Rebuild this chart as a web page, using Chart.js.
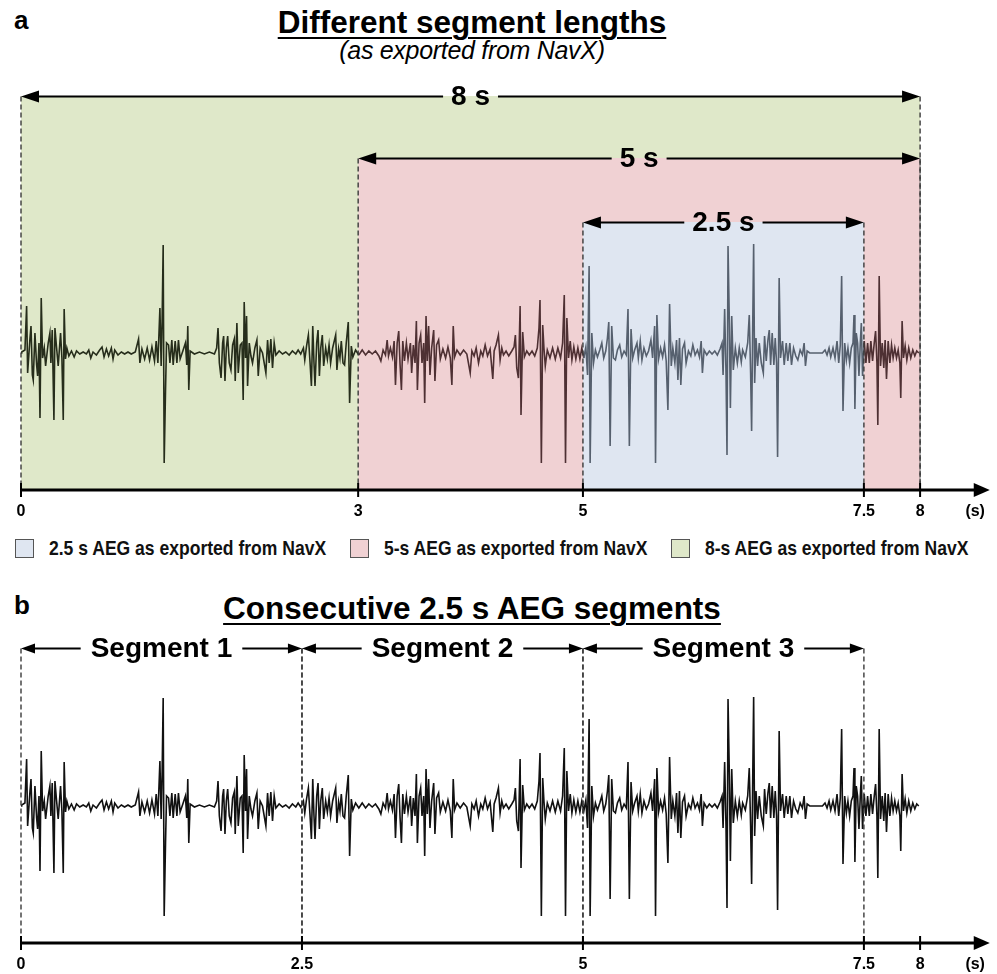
<!DOCTYPE html>
<html>
<head>
<meta charset="utf-8">
<script src="https://cdn.jsdelivr.net/npm/chart.js@4.4.1/dist/chart.umd.min.js"></script>
<style>
    body { margin: 0; width: 997px; height: 974px; position: relative; overflow: hidden; background: #fff;
           font-family: "Liberation Sans", Arial, sans-serif; color: #000; }
    .panelLetter { position: absolute; left: 14px; font-weight: bold; font-size: 26px; line-height: 30px; }
    .title { position: absolute; left: 0; width: 944px; text-align: center; font-weight: bold; font-size: 31.5px;
             line-height: 36px; text-decoration: underline; text-decoration-thickness: 2px; text-underline-offset: 4px; }
    .subtitle { position: absolute; left: 0; width: 944px; top: 36px; text-align: center; font-style: italic;
                font-size: 25px; line-height: 28px; letter-spacing: -0.3px; }
    canvas { position: absolute; left: 0; }
    #legend { position: absolute; left: 15px; top: 536px; display: flex; flex-direction: row; margin: 0; padding: 0; }
</style>
</head>
<body>
<div class="panelLetter" style="top:5px">a</div>
<div class="title" style="top:4px">Different segment lengths</div>
<div class="subtitle">(as exported from NavX)</div>
<canvas id="chartA" width="997" height="462" style="top:60px"></canvas>
<ul id="legend"></ul>
<div class="panelLetter" style="top:590px">b</div>
<div class="title" style="top:590px">Consecutive 2.5 s AEG segments</div>
<canvas id="chartB" width="997" height="385" style="top:590px"></canvas>
<script>
// x axis ticks (s); the last one carries the unit label
const ticksA = [0, 3, 5, 7.5, 8, 8.49];
const tickLabelsA = ['0', '3', '5', '7.5', '8', '(s)'];
const ticksB = [0, 2.5, 5, 7.5, 8, 8.49];
const tickLabelsB = ['0', '2.5', '5', '7.5', '8', '(s)'];

// exported AEG lengths (panel a), in legend order
const regionLabels = ['2.5 s AEG as exported from NavX', '5-s AEG as exported from NavX', '8-s AEG as exported from NavX'];
const regionSpanText = ['2.5 s', '5 s', '8 s'];
const regionStart = [5, 3, 0];
const regionEnd = [7.5, 8, 8];
const regionTop = [1.31, 1.95, 2.57];
const regionColors = ['#dfe6f1', '#f0d1d3', '#dfe8c9'];
const traceColors = ['#56606e', '#4e3033', '#262d1b'];

// consecutive segments (panel b)
const segmentLabels = ['Segment 1', 'Segment 2', 'Segment 3'];
const segmentStart = [0, 2.5, 5];
const segmentEnd = [2.5, 5, 7.5];
const segmentTop = 1.58;

// AEG trace: [time (s), amplitude]
const aegTrace = [
[0,0],[0.006,0.01],[0.035,0.03],[0.05,0.47],[0.059,-0.2],[0.08,0.15],[0.089,0.27],[0.101,-0.22],[0.109,-0.27],[0.124,0.2],
[0.139,-0.12],[0.148,-0.23],[0.16,0.1],[0.169,-0.65],[0.18,0.55],[0.192,-0.05],[0.207,0.05],[0.219,-0.13],[0.242,0.1],[0.257,0.2],
[0.266,-0.1],[0.278,0.23],[0.293,-0.67],[0.302,0.25],[0.316,0.06],[0.331,-0.13],[0.352,0.2],[0.364,-0.05],[0.376,-0.67],[0.384,0.44],
[0.396,-0.06],[0.408,0.05],[0.426,-0.03],[0.449,0.02],[0.473,-0.04],[0.494,0.02],[0.523,-0.01],[0.553,0.01],[0.582,-0.01],[0.603,0.03],
[0.621,-0.05],[0.641,0.01],[0.671,-0.02],[0.7,0.03],[0.721,0.06],[0.739,-0.04],[0.76,0.04],[0.78,-0.03],[0.804,0.05],[0.819,-0.06],
[0.834,0.03],[0.863,-0.02],[0.893,0.01],[0.922,-0.01],[0.952,0.01],[0.981,-0.01],[1.017,0.01],[1.046,0.14],[1.058,-0.1],[1.076,0.04],
[1.1,-0.06],[1.123,0.05],[1.144,-0.07],[1.165,0.06],[1.188,-0.08],[1.203,0.12],[1.218,-0.1],[1.236,0.45],[1.247,-0.13],[1.256,0.35],
[1.265,1.08],[1.274,-1.1],[1.286,-0.37],[1.295,0.1],[1.313,0.08],[1.325,-0.1],[1.342,0.13],[1.354,-0.12],[1.372,0.12],[1.387,-0.1],
[1.401,0.13],[1.416,-0.06],[1.44,0.02],[1.463,0.1],[1.475,-0.12],[1.484,0.27],[1.493,-0.37],[1.505,0.02],[1.543,-0.01],[1.588,0.01],
[1.632,-0.01],[1.676,0.01],[1.721,-0.01],[1.741,0.05],[1.753,0.25],[1.765,-0.1],[1.78,-0.25],[1.794,0.1],[1.803,0.17],[1.815,-0.28],
[1.827,0.05],[1.839,0.17],[1.853,-0.1],[1.868,-0.17],[1.883,0.08],[1.898,0.14],[1.906,-0.28],[1.921,0.3],[1.933,-0.2],[1.951,0.08],
[1.966,0.1],[1.977,-0.47],[1.986,0.51],[1.998,-0.05],[2.007,0.37],[2.016,-0.33],[2.031,0.1],[2.046,-0.03],[2.06,-0.1],[2.081,0.05],
[2.099,0.13],[2.111,-0.23],[2.128,0.05],[2.149,0],[2.179,-0.2],[2.194,0.13],[2.208,-0.1],[2.223,0.14],[2.238,-0.15],[2.253,0.1],
[2.268,-0.02],[2.297,0.02],[2.327,-0.01],[2.356,0.01],[2.386,-0.02],[2.415,0.02],[2.445,-0.01],[2.466,0.03],[2.489,-0.01],[2.513,0.05],
[2.525,-0.07],[2.542,0.08],[2.557,0.18],[2.572,-0.1],[2.584,-0.33],[2.596,0.27],[2.607,-0.1],[2.616,-0.33],[2.631,0.1],[2.643,0.23],
[2.655,-0.23],[2.667,0.05],[2.681,0.18],[2.693,-0.13],[2.711,0.05],[2.726,-0.06],[2.741,0.08],[2.755,-0.1],[2.773,0.05],[2.8,0.18],
[2.811,-0.17],[2.826,0.04],[2.838,-0.05],[2.85,0.12],[2.865,-0.1],[2.879,-0.12],[2.894,0.1],[2.912,0.31],[2.924,-0.5],[2.939,0.07],
[2.953,-0.04],[2.977,0.03],[3.006,-0.02],[3.036,0.03],[3.066,-0.02],[3.095,0.02],[3.125,-0.01],[3.154,0.02],[3.184,-0.03],[3.202,-0.08],
[3.222,0.03],[3.243,-0.02],[3.258,0.13],[3.27,-0.03],[3.287,0.05],[3.305,-0.04],[3.32,0.12],[3.332,-0.32],[3.347,0.1],[3.361,0.22],
[3.373,-0.12],[3.385,-0.37],[3.397,0.12],[3.412,-0.08],[3.429,0.1],[3.444,-0.06],[3.465,0.1],[3.476,-0.2],[3.491,0.08],[3.506,-0.1],
[3.518,0.32],[3.527,-0.37],[3.542,0.1],[3.556,0.18],[3.568,-0.1],[3.583,0.1],[3.592,-0.5],[3.604,0.37],[3.615,-0.08],[3.627,0.27],
[3.639,-0.22],[3.654,0.05],[3.672,0.23],[3.683,-0.28],[3.698,0.08],[3.716,0.13],[3.731,-0.06],[3.754,0.04],[3.778,-0.05],[3.799,0.06],
[3.82,-0.05],[3.834,-0.32],[3.846,0.27],[3.858,-0.04],[3.879,0.03],[3.908,-0.02],[3.938,0.03],[3.967,-0.01],[3.997,-0.2],[4.012,0.02],
[4.032,-0.03],[4.05,0.05],[4.071,-0.1],[4.091,0.02],[4.109,-0.03],[4.13,0.08],[4.151,-0.03],[4.174,0.04],[4.198,-0.26],[4.21,0.02],
[4.227,0.08],[4.248,0.18],[4.263,-0.07],[4.278,0.05],[4.293,-0.02],[4.316,0.02],[4.34,-0.03],[4.367,0.02],[4.387,0.06],[4.399,0.18],
[4.411,-0.15],[4.426,-0.25],[4.441,0.47],[4.449,-0.62],[4.464,0.21],[4.479,-0.04],[4.5,0.02],[4.523,-0.02],[4.547,0.02],[4.571,-0.03],
[4.594,0.05],[4.609,0.25],[4.618,0.53],[4.63,-1.1],[4.642,0.28],[4.653,0.05],[4.665,-0.13],[4.683,0.03],[4.707,-0.05],[4.73,0.05],
[4.754,-0.06],[4.777,0.05],[4.801,-0.05],[4.819,0.1],[4.834,0.58],[4.845,-1.1],[4.857,0.35],[4.872,-0.05],[4.887,0.12],[4.902,-0.07],
[4.919,0.06],[4.937,-0.06],[4.955,0.05],[4.973,-0.06],[4.99,0.05],[5.008,-0.05],[5.026,0.06],[5.041,-0.22],[5.055,0.87],[5.064,-1.1],
[5.079,0.2],[5.094,-0.1],[5.111,0.03],[5.129,-0.04],[5.15,0.03],[5.168,0.1],[5.185,-0.05],[5.203,0.02],[5.218,0.15],[5.23,0.31],
[5.242,-0.93],[5.256,0.27],[5.271,-0.05],[5.289,-0.07],[5.307,0.03],[5.327,0.08],[5.345,-0.04],[5.366,0.02],[5.386,-0.02],[5.401,0.44],
[5.413,-0.93],[5.428,0.24],[5.443,-0.05],[5.46,0.03],[5.481,0.1],[5.493,-0.05],[5.51,0.12],[5.525,-0.07],[5.543,0.05],[5.564,-0.03],
[5.584,0.02],[5.605,0.13],[5.62,-0.05],[5.638,0.27],[5.646,-1.1],[5.658,0.38],[5.673,-0.06],[5.691,0.05],[5.709,-0.04],[5.726,0.08],
[5.741,-0.08],[5.756,-0.57],[5.771,0.49],[5.786,-0.13],[5.8,0.05],[5.818,-0.1],[5.833,0.13],[5.845,-0.27],[5.859,0.15],[5.871,-0.32],
[5.886,0.04],[5.904,0.1],[5.918,-0.1],[5.939,0.02],[5.96,-0.03],[5.978,0.08],[5.998,-0.02],[6.019,0.03],[6.037,-0.04],[6.052,0.12],
[6.063,-0.2],[6.078,0.03],[6.102,-0.02],[6.125,0.02],[6.149,-0.01],[6.173,0.02],[6.196,-0.02],[6.22,0.04],[6.238,0.1],[6.247,-0.22],
[6.261,0.44],[6.273,-0.2],[6.282,-1.02],[6.291,1.07],[6.303,0.3],[6.312,-0.55],[6.324,0.37],[6.338,-0.17],[6.356,0.05],[6.374,-0.1],
[6.391,0.05],[6.409,-0.09],[6.421,0.03],[6.445,-0.04],[6.466,0.1],[6.48,0.38],[6.492,-0.2],[6.501,-0.78],[6.51,0.2],[6.519,1.09],
[6.528,-0.3],[6.54,0.15],[6.554,-0.13],[6.569,0.1],[6.587,-0.1],[6.605,-0.2],[6.616,0.17],[6.631,-0.08],[6.646,0.13],[6.658,0.23],
[6.67,-0.12],[6.684,0.2],[6.699,-0.12],[6.711,0.15],[6.723,-0.1],[6.732,-1.04],[6.746,0.75],[6.758,-0.05],[6.776,0.12],[6.791,-0.12],
[6.809,0.1],[6.823,-0.08],[6.841,0.1],[6.856,-0.12],[6.874,0.05],[6.894,-0.03],[6.912,-0.07],[6.933,0.03],[6.953,-0.02],[6.968,0.1],
[6.98,-0.13],[6.995,0.02],[7.018,0],[7.057,0],[7.095,0],[7.131,0],[7.154,0.03],[7.172,-0.02],[7.19,0.05],[7.205,-0.04],
[7.225,0.05],[7.243,-0.05],[7.261,0.12],[7.276,-0.1],[7.29,0.08],[7.302,0.77],[7.314,-0.58],[7.329,0.1],[7.344,-0.07],[7.358,0.05],
[7.373,-0.1],[7.388,0.05],[7.403,0.1],[7.412,0.38],[7.42,-0.56],[7.432,0.2],[7.444,0.1],[7.456,-0.23],[7.468,0.1],[7.477,0.3],
[7.488,-0.23],[7.503,0.12],[7.518,-0.1],[7.533,0.1],[7.548,-0.1],[7.562,0.12],[7.577,-0.08],[7.592,0.1],[7.604,0.22],[7.616,-0.1],
[7.624,-0.72],[7.636,0.77],[7.648,-0.13],[7.663,0.1],[7.677,-0.15],[7.689,0.13],[7.701,-0.26],[7.716,0.12],[7.731,-0.1],[7.746,0.08],
[7.76,-0.05],[7.775,0.05],[7.79,-0.05],[7.805,0.03],[7.82,-0.1],[7.828,-0.45],[7.84,0.32],[7.852,-0.05],[7.867,0.07],[7.882,-0.07],
[7.899,0.05],[7.917,-0.05],[7.935,0.03],[7.953,-0.03],[7.97,0.02],[7.988,0]
];

Chart.defaults.font.family = "'Liberation Sans', Arial, sans-serif";

function traceColorAt(t) {
    for (let i = 0; i < regionStart.length; i++) {
        if (t >= regionStart[i] && t < regionEnd[i]) return traceColors[i];
    }
    return traceColors[traceColors.length - 1];
}

function arrowHead(ctx, tipX, y, dir, len, half) {
    ctx.beginPath();
    ctx.moveTo(tipX, y);
    ctx.lineTo(tipX + dir * len, y - half);
    ctx.lineTo(tipX + dir * len, y + half);
    ctx.closePath();
    ctx.fill();
}

// x axis with arrow and crossing tick marks
const axisArrow = {
    id: 'axisArrow',
    afterDraw(chart) {
        const {ctx, chartArea, scales: {x}} = chart;
        const yb = chartArea.bottom;
        ctx.save();
        ctx.strokeStyle = '#000';
        ctx.fillStyle = '#000';
        ctx.lineWidth = 3;
        ctx.beginPath();
        ctx.moveTo(x.getPixelForValue(0), yb);
        ctx.lineTo(chartArea.right - 10, yb);
        ctx.stroke();
        arrowHead(ctx, chartArea.right, yb, -1, 16, 7);
        ctx.lineWidth = 2;
        x.ticks.forEach(t => {
            if (t.value > 8) return;
            const px = x.getPixelForValue(t.value);
            ctx.beginPath();
            ctx.moveTo(px, yb - 7);
            ctx.lineTo(px, yb + 7);
            ctx.stroke();
        });
        ctx.restore();
    }
};

// dashed guides + double arrows with a label in the middle
function spanArrows(starts, ends, tops, labels, style) {
    return {
        id: 'spanArrows',
        afterDatasetsDraw(chart) {
            const {ctx, chartArea, scales: {x, y}} = chart;
            ctx.save();
            for (let i = 0; i < starts.length; i++) {
                const x0 = x.getPixelForValue(starts[i]);
                const x1 = x.getPixelForValue(ends[i]);
                const yy = Math.round(y.getPixelForValue(Array.isArray(tops) ? tops[i] : tops)) + 0.5;

                ctx.setLineDash([5, 3]);
                ctx.strokeStyle = '#3a3a3a';
                ctx.lineWidth = 1.4;
                [x0, x1].forEach(px => {
                    ctx.beginPath();
                    ctx.moveTo(px, yy);
                    ctx.lineTo(px, chartArea.bottom);
                    ctx.stroke();
                });
                ctx.setLineDash([]);

                ctx.font = style.font;
                ctx.textAlign = 'center';
                ctx.textBaseline = 'middle';
                const cx = (x0 + x1) / 2;
                const w = ctx.measureText(labels[i]).width;
                ctx.strokeStyle = '#000';
                ctx.fillStyle = '#000';
                ctx.lineWidth = style.lineWidth;
                ctx.beginPath();
                ctx.moveTo(x0 + style.head - 2, yy);
                ctx.lineTo(cx - w / 2 - style.gap, yy);
                ctx.moveTo(cx + w / 2 + style.gap, yy);
                ctx.lineTo(x1 - style.head + 2, yy);
                ctx.stroke();
                arrowHead(ctx, x0, yy, 1, style.head, style.half);
                arrowHead(ctx, x1, yy, -1, style.head, style.half);
                ctx.fillText(labels[i], cx, yy + 1);
            }
            ctx.restore();
        }
    };
}

function xScale(tickVals, tickLabels) {
    return {
        type: 'linear',
        min: 0,
        max: 8.62,
        border: { display: false },
        grid: { display: false, drawTicks: false },
        afterBuildTicks: scale => { scale.ticks = tickVals.map(v => ({ value: v })); },
        afterFit: scale => { scale.height = 32; },
        ticks: {
            autoSkip: false,
            maxRotation: 0,
            padding: 12,
            color: '#000',
            font: { size: 16, weight: 'bold' },
            callback: value => tickLabels[tickVals.indexOf(value)]
        }
    };
}

function traceDataset(colorFn) {
    return {
        label: 'AEG',
        type: 'line',
        data: aegTrace.map(p => ({ x: p[0], y: p[1] })),
        borderColor: '#000',
        borderWidth: 1.6,
        pointRadius: 0,
        tension: 0,
        fill: false,
        order: 0,
        segment: { borderColor: ctx => colorFn(ctx.p0.parsed.x) }
    };
}

// Panel a
const regionDatasets = regionLabels.map((label, i) => ({
    label: label,
    type: 'line',
    data: [{ x: regionStart[i], y: regionTop[i] }, { x: regionEnd[i], y: regionTop[i] }],
    backgroundColor: regionColors[i],
    borderWidth: 0,
    pointRadius: 0,
    fill: 'start',
    order: i + 1
}));

new Chart(document.getElementById('chartA'), {
    type: 'line',
    data: { datasets: [...regionDatasets, traceDataset(traceColorAt)] },
    options: {
        responsive: false,
        animation: false,
        devicePixelRatio: 1,
        layout: { padding: { left: 21, right: 4, top: 30, bottom: 0 } },
        plugins: { legend: { display: false }, tooltip: { enabled: false } },
        scales: {
            x: xScale(ticksA, tickLabelsA),
            y: { display: false, min: -1.37, max: 2.63 }
        }
    },
    plugins: [axisArrow, spanArrows(regionStart, regionEnd, regionTop, regionSpanText,
        { font: 'bold 28px "Liberation Sans", Arial, sans-serif', lineWidth: 2, head: 18, half: 6, gap: 8 })]
});

// Panel b
new Chart(document.getElementById('chartB'), {
    type: 'line',
    data: { datasets: [traceDataset(() => '#111')] },
    options: {
        responsive: false,
        animation: false,
        devicePixelRatio: 1,
        layout: { padding: { left: 21, right: 4, top: 35, bottom: 0 } },
        plugins: { legend: { display: false }, tooltip: { enabled: false } },
        scales: {
            x: xScale(ticksB, tickLabelsB),
            y: { display: false, min: -1.37, max: 1.81 }
        }
    },
    plugins: [axisArrow, spanArrows(segmentStart, segmentEnd, segmentTop, segmentLabels,
        { font: 'bold 28px "Liberation Sans", Arial, sans-serif', lineWidth: 1.8, head: 14, half: 5, gap: 10 })]
});

// Legend for panel a (condensed text via horizontal squeeze)
function printLegend() {
    const legendContainer = document.getElementById('legend');
    const squeeze = 0.835;
    regionLabels.forEach((label, i) => {
        const li = document.createElement('li');
        li.style.display = 'flex';
        li.style.flexDirection = 'row';
        li.style.alignItems = 'center';
        li.style.listStyle = 'none';
        li.style.whiteSpace = 'nowrap';
        li.style.marginRight = '24px';

        const boxSpan = document.createElement('span');
        boxSpan.style.display = 'inline-block';
        boxSpan.style.width = '17px';
        boxSpan.style.height = '17px';
        boxSpan.style.background = regionColors[i];
        boxSpan.style.border = '1.5px solid #555';
        boxSpan.style.marginRight = '15px';

        const text = document.createElement('span');
        text.textContent = label;
        text.style.display = 'inline-block';
        text.style.fontWeight = 'bold';
        text.style.fontSize = '21px';
        text.style.lineHeight = '24px';
        text.style.color = '#111';
        text.style.transform = 'scaleX(' + squeeze + ')';
        text.style.transformOrigin = 'left center';

        li.appendChild(boxSpan);
        li.appendChild(text);
        legendContainer.appendChild(li);
        text.style.marginRight = (-(1 - squeeze) * text.offsetWidth) + 'px';
    });
}
printLegend();
</script>
</body>
</html>
